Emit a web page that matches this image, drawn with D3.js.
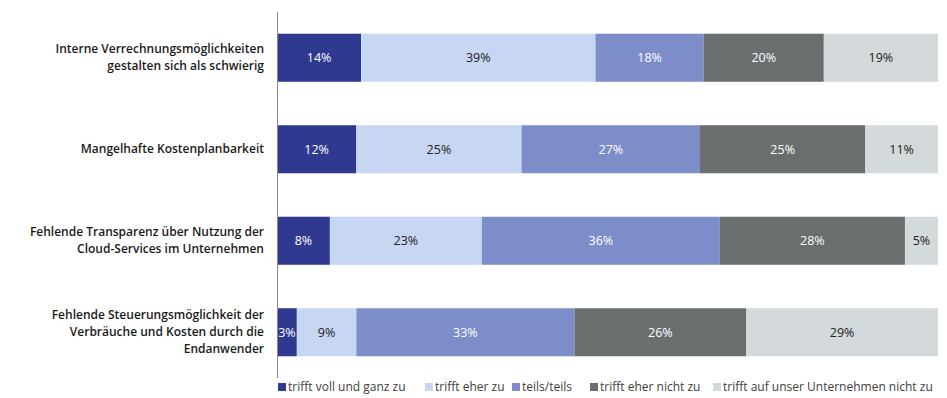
<!DOCTYPE html>
<html><head><meta charset="utf-8">
<script src="https://cdn.jsdelivr.net/npm/d3@7"></script>
<style>body{margin:0;background:#fff}svg{display:block}text{font-family:"Open Sans","Noto Sans",sans-serif}</style>
</head><body><svg id="c" width="947" height="398"></svg>
<script>
const categories = [
  ["Interne Verrechnungsmöglichkeiten","gestalten sich als schwierig"],
  ["Mangelhafte Kostenplanbarkeit"],
  ["Fehlende Transparenz über Nutzung der","Cloud-Services im Unternehmen"],
  ["Fehlende Steuerungsmöglichkeit der","Verbräuche und Kosten durch die","Endanwender"]
];
const seriesNames = ["trifft voll und ganz zu","trifft eher zu","teils/teils","trifft eher nicht zu","trifft auf unser Unternehmen nicht zu"];
const s1 = [14,12,8,3];
const s2 = [39,25,23,9];
const s3 = [18,27,36,33];
const s4 = [20,25,28,26];
const s5 = [19,11,5,29];
const colors = ["#2f3990","#c6d6f3","#7d8dc9","#6b6e6f","#d4d9db"];
const labelColors = ["#fff","#222","#fff","#fff","#222"];

const svg = d3.select("#c");
const seriesVals = [s1,s2,s3,s4,s5];
const rows = categories.map((c,i)=>{const o={i}; seriesNames.forEach((n,k)=>o[n]=seriesVals[k][i]); return o;});
const stack = d3.stack().keys(seriesNames).offset(d3.stackOffsetExpand)(rows);

const x = d3.scaleLinear().domain([0,1]).range([277,938]);
const y = d3.scaleBand().domain(d3.range(categories.length)).range([12,378]).paddingInner(0.475).paddingOuter(0.2375);

stack.forEach((layer,k)=>{
  const g = svg.append("g");
  g.selectAll("rect").data(layer).join("rect")
    .attr("x",d=>x(d[0])).attr("width",d=>x(d[1])-x(d[0]))
    .attr("y",(d,i)=>y(i)).attr("height",y.bandwidth())
    .attr("fill",colors[k]);
  g.selectAll("text").data(layer).join("text")
    .attr("x",d=>(x(d[0])+x(d[1]))/2)
    .attr("y",(d,i)=>y(i)+y.bandwidth()/2)
    .attr("dy","0.35em").attr("text-anchor","middle")
    .attr("font-size",12.5).attr("fill",labelColors[k])
    .text((d,i)=>seriesVals[k][i]+"%");
});

// axis line
svg.append("line").attr("x1",277.5).attr("x2",277.5).attr("y1",12).attr("y2",378)
  .attr("stroke","#8a8a8a").attr("stroke-width",1);

// category labels
categories.forEach((lines,i)=>{
  const cy = y(i)+y.bandwidth()/2;
  const lh = 17;
  const t = svg.append("text").attr("text-anchor","end").attr("font-size",12)
    .attr("font-weight",600).attr("fill","#1a1a1a");
  lines.forEach((l,j)=>{
    t.append("tspan").attr("x",264).attr("y",cy+(j-(lines.length-1)/2)*lh).attr("dy","0.35em").text(l);
  });
});

// legend
const legendX = [278,425,512,590,713];
const ly = 387;
seriesNames.forEach((n,k)=>{
  const lx = legendX[k];
  svg.append("rect").attr("x",lx).attr("y",ly-4).attr("width",8).attr("height",8).attr("fill",colors[k]);
  svg.append("text").attr("x",lx+10).attr("y",ly).attr("dy","0.35em")
    .attr("font-size",12).attr("fill","#404040").text(n);
});
</script></body></html>
